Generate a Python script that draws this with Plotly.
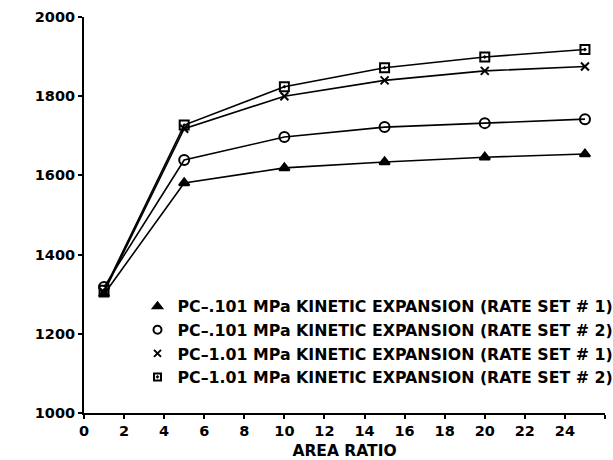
import plotly.graph_objects as go

area_ratio = [1, 5, 10, 15, 20, 25]
rate1_low = [1300, 1581, 1619, 1634, 1646, 1654]
rate2_low = [1318, 1639, 1697, 1722, 1732, 1742]
rate1_high = [1305, 1718, 1800, 1840, 1864, 1875]
rate2_high = [1310, 1727, 1824, 1872, 1899, 1918]

series_names = [
    "PC\u2013.101 MPa KINETIC EXPANSION (RATE SET # 1)",
    "PC\u2013.101 MPa KINETIC EXPANSION (RATE SET # 2)",
    "PC\u20131.01 MPa KINETIC EXPANSION (RATE SET # 1)",
    "PC\u20131.01 MPa KINETIC EXPANSION (RATE SET # 2)",
]
series_values = [rate1_low, rate2_low, rate1_high, rate2_high]
symbols = ["triangle-up", "circle-open", "x-thin-open", "square-open-dot"]
sizes = [9, 10, 8, 9]
leg_sizes = [8, 8, 7, 7]

x_ticks = list(range(0, 27, 2))
y_ticks = [1000, 1200, 1400, 1600, 1800, 2000]

FONT = "DejaVu Sans"
fig = go.Figure()
for name, vals, sym, sz in zip(series_names, series_values, symbols, sizes):
    fig.add_trace(go.Scatter(
        x=area_ratio, y=vals, mode="lines+markers", showlegend=False,
        line=dict(color="black", width=1.6),
        marker=dict(symbol=sym, size=sz, color="black",
                    line=dict(color="black", width=2)),
    ))
for i, (name, sym, sz) in enumerate(zip(series_names, symbols, leg_sizes)):
    fig.add_trace(go.Scatter(
        x=[None], y=[None], mode="markers", name=name, legendgroup=f"g{i}",
        marker=dict(symbol=sym, size=sz, color="black",
                    line=dict(color="black", width=2)),
    ))

fig.update_layout(
    width=613, height=460,
    margin=dict(l=84, r=8, t=17, b=47, autoexpand=False),
    paper_bgcolor="white", plot_bgcolor="white",
    font=dict(family=FONT, color="black", size=15, weight="bold"),
    showlegend=True,
    legend=dict(x=0.2243, y=0.2565, xref="container", yref="container",
                xanchor="left", yanchor="middle",
                bgcolor="rgba(0,0,0,0)", tracegroupgap=0,
                font=dict(size=15.8, family=FONT, weight="bold"),
                itemwidth=30),
    xaxis=dict(range=[0, 26], tickvals=x_ticks, showgrid=False, zeroline=False,
               showline=True, linecolor="black", linewidth=2,
               ticks="outside", ticklen=4, tickwidth=1.5, tickcolor="black",
               title=dict(text="AREA RATIO", standoff=9,
                          font=dict(size=15.5, weight="bold")),
               tickfont=dict(size=14.5, weight="bold")),
    yaxis=dict(range=[1000, 2000], tickvals=y_ticks, showgrid=False, zeroline=False,
               showline=True, linecolor="black", linewidth=2,
               ticks="outside", ticklen=4, tickwidth=1.5, tickcolor="black",
               title=dict(text="VACUUM SPECIFIC IMPULSE (SEC)", standoff=9,
                          font=dict(size=15, weight="bold")),
               tickfont=dict(size=14.5, weight="bold")),
)
fig.write_html("out.html")
